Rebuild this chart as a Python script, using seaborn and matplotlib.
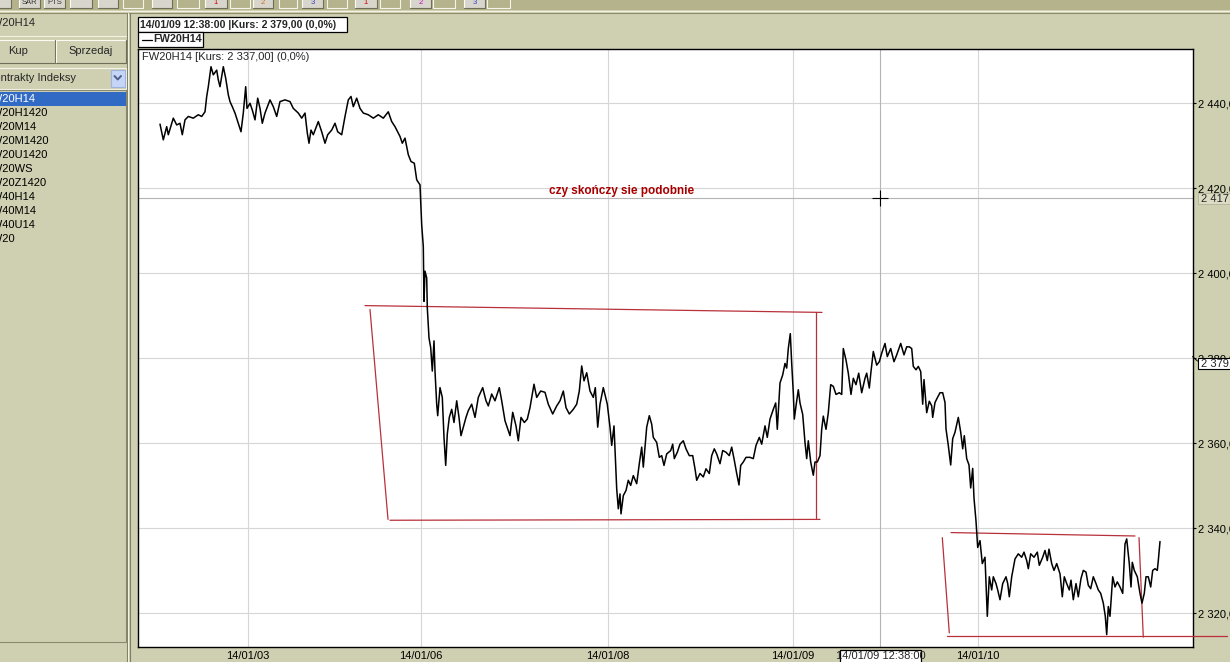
import pandas as pd
import seaborn as sns
from matplotlib import pyplot as plt
from matplotlib.patches import Rectangle

# FW20H14 - notowania: (numer slupka, kurs)
sesja_1 = [(0, 2435.1), (3.3, 2431.4), (6.7, 2434.5), (8.3, 2432.6), (13.3, 2436.5), (16.7, 2434.9),
           (20, 2435.3), (22.3, 2432.6), (25, 2436.1), (28.3, 2436.9), (33.3, 2436.5), (38.3, 2437.3),
           (41.7, 2436.9), (45, 2438.0), (46.7, 2441.6), (48.3, 2443.9), (51, 2448.6), (53.3, 2446.7),
           (56.7, 2447.8), (58.3, 2445.5), (60, 2443.9), (63.3, 2448.6), (65.7, 2445.9), (68.3, 2442.0),
           (70, 2440.4), (72.3, 2439.2), (75, 2437.7), (77.7, 2435.7), (81, 2433.3), (83.3, 2437.7),
           (85.7, 2443.9), (87, 2438.8), (90, 2440.0), (92.3, 2438.4), (95, 2436.1), (97.7, 2441.2),
           (100, 2438.8), (102.3, 2435.3), (105, 2437.7), (110, 2440.8), (113.3, 2439.2), (116.7, 2436.9),
           (120, 2440.4), (125, 2440.8), (130, 2440.4), (133.3, 2438.8), (138.3, 2437.7), (141.7, 2436.5),
           (145, 2437.7), (147.3, 2433.0), (149, 2430.6), (151, 2433.7), (153.3, 2432.6), (158.3, 2435.7),
           (161.7, 2433.3), (165, 2430.6), (167.7, 2432.6), (171.7, 2433.7), (175, 2435.3), (177.7, 2433.3),
           (181.7, 2432.6), (185, 2436.9), (188.3, 2440.8), (191, 2441.6), (193.3, 2439.2), (196.7, 2441.2),
           (200, 2438.8), (203.3, 2437.7), (208.3, 2437.3), (213.3, 2436.5), (218.3, 2437.3), (223.3, 2436.5),
           (228.3, 2438.0), (231.7, 2435.7), (235, 2434.5), (240, 2432.2), (242.3, 2430.6), (245, 2431.8),
           (248.3, 2427.9), (251, 2426.3), (254.3, 2425.9), (256.7, 2422.0), (260, 2420.8)]
sesja_2 = [(261.7, 2411.4), (263.3, 2406.3), (264, 2393.4), (265, 2400.5), (266.7, 2398.9), (267.3, 2391.9),
           (269, 2384.8), (270.7, 2382.5), (272.3, 2377.0), (274, 2384.1), (275, 2377.0), (276.7, 2369.2),
           (277.7, 2366.5), (280, 2373.1), (282.3, 2370.8), (284, 2361.4), (285.7, 2354.8), (287.3, 2362.2),
           (289.3, 2366.1), (291.7, 2368.0), (294, 2364.9), (296.7, 2370.0), (299, 2366.1), (301, 2361.8),
           (303.3, 2363.8), (306, 2366.1), (308.3, 2367.7), (311.7, 2369.2), (315, 2366.1), (318.3, 2370.8),
           (322.7, 2373.1), (326, 2370.0), (328.3, 2368.8), (331.7, 2371.6), (335, 2370.0), (339.3, 2373.1),
           (341.7, 2370.0), (345, 2365.3), (348.3, 2363.0), (350, 2361.8), (352.7, 2367.3), (356, 2364.1),
           (358.3, 2360.6), (361, 2366.1), (364.3, 2364.9), (367.3, 2365.7), (370, 2368.4), (374, 2373.9),
           (376.7, 2370.8), (380.7, 2372.3), (385, 2372.0), (388.3, 2369.2), (392.7, 2366.9), (396.7, 2368.8),
           (400, 2370.0), (403.3, 2372.3), (406, 2368.4), (409.3, 2366.9), (413.3, 2368.0), (416.7, 2369.2),
           (419.3, 2372.3), (421.7, 2378.2), (424, 2374.7), (426.7, 2376.6), (430, 2372.3), (433.3, 2370.8),
           (435.3, 2373.1), (437.7, 2363.8), (440, 2369.2), (443.3, 2373.1), (447.3, 2369.2), (450, 2363.8),
           (451.7, 2359.5), (454, 2364.1), (456.7, 2349.3), (458.3, 2344.6), (460, 2348.1), (461, 2343.4),
           (463.3, 2347.7), (466, 2348.9), (468.3, 2351.3), (470.7, 2350.1), (473.3, 2352.4), (476.7, 2350.5),
           (479.3, 2355.2), (481.7, 2359.1), (483.3, 2354.4), (486.7, 2363.8), (489.3, 2366.5), (491.7, 2364.5),
           (493.3, 2361.4), (496.7, 2360.2), (499.3, 2356.7)]
sesja_3 = [(501.7, 2357.1), (504, 2354.8), (506.7, 2357.5), (510.7, 2358.3), (512.7, 2359.8), (514.3, 2356.4),
           (517.3, 2357.9), (520, 2359.8), (523.3, 2360.6), (526, 2358.7), (529.3, 2357.1), (532.7, 2357.1),
           (535, 2354.0), (536.7, 2351.3), (540, 2352.9), (543.3, 2352.1), (546, 2354.0), (549.3, 2352.9),
           (551.7, 2357.1), (554.3, 2358.7), (556.7, 2357.5), (560, 2355.2), (562.7, 2358.3), (566, 2357.9),
           (569.3, 2357.1), (571.7, 2359.1), (574, 2356.4), (576.7, 2352.9), (579, 2350.2), (580.7, 2354.8),
           (583.3, 2355.6), (586, 2356.7), (590, 2356.7), (593.3, 2356.4), (596, 2359.5), (599.3, 2361.4),
           (601.7, 2359.8), (605, 2364.1), (607.3, 2361.4), (610, 2365.7), (613.3, 2368.0), (615.7, 2369.5),
           (617.3, 2363.3), (620, 2374.2), (622.7, 2376.1), (625, 2378.8), (626.7, 2377.7), (628.3, 2382.3),
           (630.3, 2385.8), (631.7, 2378.8), (633.3, 2371.9), (634.3, 2365.7), (636, 2368.8), (638.3, 2372.6),
           (640, 2369.5), (642.7, 2366.8), (645, 2360.2), (646.7, 2356.4), (648.3, 2360.6), (650.7, 2355.6),
           (653.3, 2352.5), (655, 2355.6), (657.3, 2355.6), (660, 2357.1), (661.7, 2363.3), (663.3, 2366.4),
           (666, 2363.3), (668.3, 2367.2), (670.7, 2373.8), (673.3, 2373.4), (676, 2371.5), (679.3, 2371.9),
           (681.7, 2371.5), (683.3, 2382.3), (686, 2379.6), (688.3, 2376.5), (691, 2371.5), (693.3, 2375.3),
           (696, 2373.8), (698.7, 2376.5), (701.7, 2371.9), (705, 2375.3), (706.7, 2376.5), (709.3, 2373.0),
           (711, 2376.9), (713.3, 2381.6), (716.7, 2378.4), (719.3, 2379.2), (721.7, 2381.2), (725, 2383.5),
           (727.3, 2380.4), (730.7, 2382.3), (734, 2379.2), (736.7, 2380.8), (740.7, 2383.5), (744, 2380.8),
           (746.7, 2382.7), (749.3, 2382.7)]
sesja_4 = [(751.7, 2382.3), (753.3, 2378.1), (756, 2377.3), (758.3, 2378.1), (760.7, 2376.9), (762.7, 2369.2),
           (764, 2375.0), (766.7, 2367.2), (769.3, 2369.9), (771.7, 2368.8), (772.7, 2366.1), (775, 2369.6),
           (777.3, 2370.7), (780, 2371.9), (782.7, 2371.9), (785, 2369.6), (786, 2363.4), (788.3, 2359.5),
           (790.7, 2354.9), (792.7, 2361.1), (795, 2362.6), (798.3, 2366.1), (800.7, 2362.6), (802.7, 2358.7),
           (804.3, 2361.8), (806.7, 2356.4), (809, 2354.9), (810.7, 2349.5), (812.7, 2354.1), (814, 2347.1),
           (816, 2341.7), (817.7, 2335.5), (820, 2337.1), (822.3, 2331.7), (825, 2333.2), (827.3, 2319.3),
           (829.3, 2328.6), (831.7, 2325.5), (833.3, 2328.6), (836, 2327.0), (837.7, 2325.5), (840, 2323.2),
           (842.7, 2327.0), (846, 2328.6), (847.7, 2327.0), (849.3, 2323.9), (851.7, 2328.6), (855, 2332.8),
           (858.3, 2334.0), (861.7, 2333.2), (864, 2334.4), (866.7, 2332.4), (868.3, 2330.5), (870.7, 2334.0),
           (874, 2333.2), (877.3, 2334.4), (879.3, 2331.3), (882.7, 2333.2), (885, 2334.8), (887.3, 2332.4),
           (889, 2335.1), (891.7, 2331.7), (894, 2330.1), (896.7, 2331.7), (900, 2329.3), (902.3, 2323.9),
           (904.3, 2328.6), (906.7, 2327.0), (909.3, 2325.5), (911, 2327.8), (913.3, 2323.2), (916, 2327.0),
           (918.3, 2323.9), (921, 2328.2), (923.3, 2330.1), (926, 2329.7), (928.3, 2326.6), (930.7, 2325.8),
           (933.3, 2328.6), (936, 2327.0), (938.3, 2325.5), (940.7, 2324.7), (943.3, 2322.4), (945.3, 2319.3),
           (946.7, 2315.0), (948.3, 2321.6), (950, 2319.3), (952.7, 2328.6), (955, 2326.2), (957.3, 2327.4),
           (960, 2326.2), (962.7, 2324.7), (965, 2336.3), (966.7, 2337.5), (969.3, 2331.7), (971, 2326.2),
           (972.3, 2332.0), (974.3, 2330.1), (977.3, 2328.6), (980, 2324.7), (982, 2322.4), (984.3, 2324.7),
           (986, 2328.6), (988.3, 2328.6), (990.7, 2326.2), (992.7, 2330.1), (995, 2330.5), (997.3, 2330.1),
           (998.3, 2332.4), (1000, 2336.9)]

x_ticks = [87.5, 260.5, 448, 633, 818]
x_labels = ["14/01/03", "14/01/06", "14/01/08", "14/01/09", "14/01/10"]
y_ticks = [2320, 2340, 2360, 2380, 2400, 2420, 2440]
y_labels = ["2 320,00", "2 340,00", "2 360,00", "2 380,00", "2 400,00", "2 420,00", "2 440,00"]

kursor_x = 720.4
kursor_y = 2417.6
ostatni_kurs = 2379.0

# linie narysowane recznie na wykresie: ((x0, y0), (x1, y1))
linie = [((205, 2392.4), (662, 2390.8)),
         ((210, 2391.5), (228, 2342.1)),
         ((230, 2341.9), (660, 2342.1)),
         ((655.5, 2390.8), (655.5, 2342.4)),
         ((791, 2339.0), (975, 2338.2)),
         ((782.3, 2337.8), (789.3, 2315.4)),
         ((979, 2337.8), (983.3, 2314.4)),
         ((786.7, 2314.7), (1067, 2314.7))]

lista = ["FW20H14", "FW20H1420", "FW20M14", "FW20M1420", "FW20U1420", "FW20WS",
         "FW20Z1420", "FW40H14", "FW40M14", "FW40U14", "FW20"]

KHAKI = "#cfcfb1"
CZERWONY = "#b8303a"

sns.set_theme(style="white")
plt.rcParams['font.family'] = ['Liberation Sans', 'DejaVu Sans']

df = pd.DataFrame(sesja_1 + sesja_2 + sesja_3 + sesja_4, columns=["bar", "kurs"])

fig = plt.figure(figsize=(12.3, 6.62), dpi=100, facecolor=KHAKI)
W, H = 1230, 662
ax = fig.add_axes([137.5 / W, 1 - 646.7 / H, 1055 / W, 597.4 / H], zorder=1)
ax.set_facecolor("white")

sns.lineplot(data=df, x="bar", y="kurs", estimator=None, sort=False, color="black", lw=1.1, ax=ax, zorder=4)

ax.set_xlim(-22.5, 1032.5)
ax.set_ylim(2312.15, 2452.7)
ax.set_xticks(x_ticks, x_labels)
ax.set_yticks(y_ticks, y_labels)
ax.yaxis.tick_right()
ax.set_xlabel("")
ax.set_ylabel("")
ax.grid(True, color="#d6d6d6", lw=0.8)
ax.set_axisbelow(True)
for s in ax.spines.values():
    s.set_color("black")
    s.set_linewidth(1.0)
ax.tick_params(axis="y", right=True, left=False, length=2.5, width=0.8, pad=1.5, labelsize=8, colors="black")
ax.tick_params(axis="x", bottom=True, length=0, pad=3, labelsize=8, colors="black")

# kursor (krzyz)
ax.axvline(kursor_x, color="#b4b4b4", lw=0.8, zorder=2)
ax.axhline(kursor_y, color="#b4b4b4", lw=0.8, zorder=2)
ax.plot([kursor_x], [kursor_y], marker="+", ms=12, mew=0.8, color="black", zorder=5)

for (x0, y0), (x1, y1) in linie:
    ax.plot([x0, x1], [y0, y1], color=CZERWONY, lw=0.9, clip_on=False, zorder=3)

ax.text(462, 2419.4, "czy skończy sie podobnie", color="#a80000", fontsize=8.5,
        fontweight="bold", ha="center", va="center", zorder=5)
ax.text(0.004, 0.987, "FW20H14 [Kurs: 2 337,00] (0,0%)", transform=ax.transAxes,
        fontsize=8, va="center", ha="left")

# ---- okno programu (px, os y w dol)
gui = fig.add_axes([0, 0, 1, 1], zorder=2)
gui.set_xlim(0, W)
gui.set_ylim(H, 0)
gui.set_axis_off()


def przycisk(x0, x1, y0, y1, face):
    gui.add_patch(Rectangle((x0, y0), x1 - x0, y1 - y0, facecolor=face, edgecolor="none"))
    gui.plot([x0, x0, x1], [y1, y0, y0], color="#fbfbf4", lw=0.8)
    gui.plot([x0, x1, x1], [y1, y1, y0], color="#6f6f58", lw=0.8)


# pasek narzedzi
gui.add_patch(Rectangle((0, 0), W, 10.3, facecolor="#b5b38b", edgecolor="none"))
gui.plot([0, W], [11, 11], color="#f3f3e4", lw=0.8)
gui.plot([0, W], [12.8, 12.8], color="#8e8c6a", lw=0.8)
for x0, x1, txt, col in [(-3, 11, "", "k"), (19, 40, "SAR", "#333333"), (44, 65, "PTS", "#333333"),
                         (70, 92, "", "k"), (98, 118, "", "k"), (152, 172, "", "k"),
                         (205, 227, "1", "#cc0000"), (253, 273, "2", "#d2691e"), (302, 323, "3", "#3b3bc8"),
                         (355, 377, "1", "#cc0000"), (410, 431, "2", "#c800c8"), (464, 485, "3", "#3b3bc8")]:
    przycisk(x0, x1, -3, 7.5, "#d8d6cc")
    if txt:
        gui.text((x0 + x1) / 2, 3, txt, color=col, fontsize=5.5, ha="center", va="center")
for x0, x1 in [(123, 143), (177, 199), (230, 250), (279, 297), (327, 347), (380, 400), (433, 455), (487, 510)]:
    gui.add_patch(Rectangle((x0, -3), x1 - x0, 10.5, facecolor="none", edgecolor="#f4f4ea", lw=0.8))

# lewy panel
gui.plot([126.5, 126.5], [13, H], color="#7d7d62", lw=0.8)
gui.plot([128, 128], [13, H], color="#f3f3e4", lw=0.8)
gui.plot([130, 130], [13, H], color="#7d7d62", lw=0.8)
gui.plot([-1, 125.5], [35.5, 35.5], color="#f3f3e4", lw=0.8)
gui.text(-15, 23, "FW20H14", fontsize=8, va="center", ha="left")
przycisk(-3, 54.5, 39.5, 63, KHAKI)
przycisk(56, 125.5, 39.5, 63, KHAKI)
gui.text(18, 51, "Kup", fontsize=8, ha="center", va="center")
gui.text(91, 51, "Sprzedaj", fontsize=8, ha="center", va="center")
gui.add_patch(Rectangle((-2, 68), 127.5, 20.5, facecolor=KHAKI, edgecolor="#f4f4ea", lw=0.8))
gui.text(-13, 78, "Kontrakty Indeksy", fontsize=8, va="center", ha="left")
gui.add_patch(Rectangle((110.5, 69.5), 14.5, 17.5, facecolor="#c5d5f8", edgecolor="#9db3e0", lw=0.8))
gui.plot([114.5, 117.75, 121], [76, 79.5, 76], color="#4c5f86", lw=1.4)
gui.add_patch(Rectangle((-2, 90), 127.5, 552, facecolor=KHAKI, edgecolor="#8a8a70", lw=0.8))
gui.add_patch(Rectangle((0, 92), 125.5, 14, facecolor="#316ac5", edgecolor="none"))
for i, nazwa in enumerate(lista):
    gui.text(-15, 99 + 14 * i, nazwa, fontsize=8, va="center", ha="left",
             color="white" if i == 0 else "black")

# naglowki wykresu
gui.add_patch(Rectangle((137.5, 17), 209.5, 15, facecolor="white", edgecolor="black", lw=0.9))
gui.text(140.5, 24.5, "14/01/09 12:38:00 |Kurs: 2 379,00 (0,0%)", fontsize=7.6, fontweight="bold", va="center")
gui.add_patch(Rectangle((137.5, 32), 65, 15, facecolor="white", edgecolor="black", lw=0.9))
gui.plot([142, 151.5], [39.5, 39.5], color="black", lw=0.9)
gui.text(153, 39.5, "FW20H14", fontsize=7.8, fontweight="bold", va="center")

# etykiety kursora na osiach
y_kursor = 103.3 + (2440 - kursor_y) * 4.25
gui.add_patch(Rectangle((1197.5, y_kursor - 5.5), 40, 11, facecolor="#dcdcc4", edgecolor="#b8b8a0", lw=0.7))
gui.text(1201, y_kursor, "2 417,6", fontsize=8, va="center")
y_ost = 103.3 + (2440 - ostatni_kurs) * 4.25
gui.plot([1192.5, 1197.5], [y_ost - 6, y_ost - 1.5], color="black", lw=0.7)
gui.add_patch(Rectangle((1197.5, y_ost - 5), 40, 11, facecolor="white", edgecolor="black", lw=0.8))
gui.text(1201, y_ost + 0.5, "2 379,00", fontsize=8, va="center")
x_k = 137.5 + (kursor_x + 22.5)
gui.add_patch(Rectangle((x_k - 40.5, 649.5), 81.5, 14, facecolor="white", edgecolor="black", lw=0.9))
gui.text(x_k, 656, "14/01/09 12:38:00", fontsize=8, ha="center", va="center")

fig.savefig("out.png", dpi=100, facecolor=KHAKI)
